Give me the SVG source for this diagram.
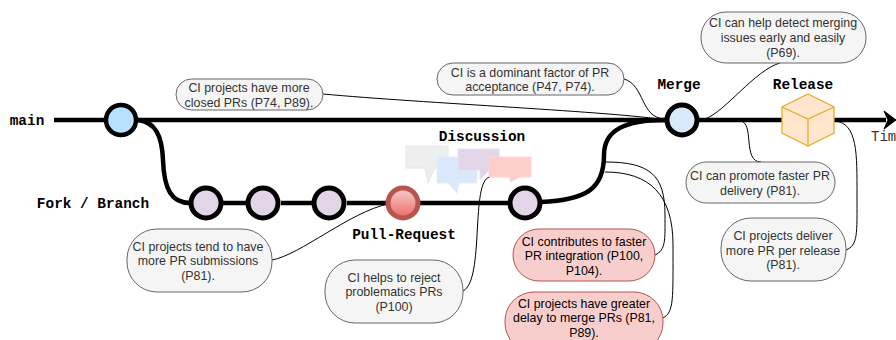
<svg xmlns="http://www.w3.org/2000/svg" width="896" height="340" viewBox="0 0 896 340">
<defs>
<linearGradient id="pr" x1="0" y1="0" x2="0" y2="1"><stop offset="0" stop-color="#f8cecc"/><stop offset="1" stop-color="#ea6b66"/></linearGradient>
</defs>
<style>
.heavy{fill:none;stroke:#000;stroke-width:4.5}
.thin{fill:none;stroke:#000;stroke-width:1}
.c{stroke:#000;stroke-width:5}
.purple{fill:#e1d5e7}
.note{fill:#f5f5f5;stroke:#666;stroke-width:1}
.red{fill:#f8cecc;stroke:#b85450;stroke-width:1}
.nt{font-family:"Liberation Sans",Arial,sans-serif;font-size:12.4px;fill:#333;text-anchor:middle}
.rt{font-family:"Liberation Sans",Arial,sans-serif;font-size:12.4px;fill:#000;text-anchor:middle}
.lb{font-family:"Liberation Mono","Courier New",monospace;font-size:14.4px;font-weight:bold;fill:#000;text-anchor:middle}
</style>
<g id="connectors">
<path class="heavy" d="M54 120H120"/>
<path class="heavy" d="M135 120H665"/>
<path class="heavy" d="M698 120H782"/>
<path class="heavy" d="M834 120H886"/>
<path d="M884 111L896 120L884 129L888 120Z" fill="#000" stroke="#000"/>
<path class="heavy" d="M138 120C155 122 162 135 163 160C164 190 172 203 190 203"/>
<path class="heavy" d="M222 203H247M281 203H313M347 203H388M418 203H508"/>
<path class="heavy" d="M541 202C585 200 604 190 604 155C604 130 625 120 665 120"/>
<path class="thin" d="M323 94C420 103 620 112 665 120"/>
<path class="thin" d="M624 79C645 85 640 118 665 119"/>
<path class="thin" d="M705 119C725 112 755 70 780 63"/>
<path class="thin" d="M740 121C755 122 742 162 761 162"/>
<path class="thin" d="M834 121C858 122 857 155 857 195C857 235 858 245 846 250"/>
<path class="thin" d="M272 260C300 255 350 212 388 204"/>
<path class="thin" d="M463 291C485 280 470 180 490 177"/>
<path class="thin" d="M605 162C650 162 665 175 665 215C665 240 666 250 655 255"/>
<path class="thin" d="M605 172C650 172 673 195 673 245C673 300 674 312 663 318"/>
</g>
<g id="main-start"><circle cx="121" cy="120" r="15" fill="#b8e0ff" stroke="#000" stroke-width="4.5"/></g>
<g id="commit-1"><circle class="c purple" cx="206" cy="203" r="15"/></g>
<g id="commit-2"><circle class="c purple" cx="263" cy="203" r="15"/></g>
<g id="commit-3"><circle class="c purple" cx="329" cy="203" r="15"/></g>
<g id="pull-request"><circle cx="403" cy="203" r="15" fill="url(#pr)" stroke="#b85450" stroke-width="5"/></g>
<g id="commit-4"><circle class="c purple" cx="525" cy="203" r="15"/></g>
<g id="merge"><circle cx="682" cy="120" r="15" fill="#dae8fc" stroke="#000" stroke-width="5"/></g>
<g id="release">
<path d="M808 94L834 107V133L808 146L782 133V107Z" fill="#ffe6cc" stroke="#e6ad2e" stroke-width="1.3"/>
<path d="M782 107L808 119L834 107M808 119V146" fill="none" stroke="#e6ad2e" stroke-width="1.3"/>
</g>
<g id="discussion-bubbles">
<path d="M406 146H448V168H435L428 183L425 168H406Z" fill="#eeeeee" stroke="#e6e6e6"/>
<path d="M437 157H477V183H459L457 193L448 183H437Z" fill="#dae8fc" stroke="#e4eefc"/>
<path d="M458 149H499V170H489L480 180V170H458Z" fill="#e1d5e7" stroke="#e8dfec"/>
<path d="M489 157H531V177H520L510 182V177H489Z" fill="#ffcccc" stroke="#ffd8d8"/>
</g>
<g id="label-main"><text class="lb" x="27" y="125">main</text></g>
<g id="label-fork"><text class="lb" x="93" y="208">Fork / Branch</text></g>
<g id="label-pr"><text class="lb" x="404" y="239">Pull-Request</text></g>
<g id="label-discussion"><text class="lb" x="482" y="141">Discussion</text></g>
<g id="label-merge"><text class="lb" x="679" y="89">Merge</text></g>
<g id="label-release"><text class="lb" x="803" y="89">Release</text></g>
<g id="label-time"><text x="871" y="141" font-family="'Liberation Mono',monospace" font-size="14" fill="#333">Time</text></g>
<g id="note-closed"><rect class="note" x="176" y="79" width="147" height="31" rx="15.5"/><text class="nt" x="249" y="92">CI projects have more</text><text class="nt" x="249" y="107">closed PRs (P74, P89).</text></g>
<g id="note-dominant"><rect class="note" x="437" y="63" width="187" height="32" rx="16"/><text class="nt" x="530" y="77">CI is a dominant factor of PR</text><text class="nt" x="530" y="91">acceptance (P47, P74).</text></g>
<g id="note-detect"><rect class="note" x="701" y="12" width="165" height="51" rx="25"/><text class="nt" x="783" y="27">CI can help detect merging</text><text class="nt" x="783" y="42">issues early and easily</text><text class="nt" x="783" y="57">(P69).</text></g>
<g id="note-promote"><rect class="note" x="686" y="162" width="149" height="41" rx="20.5"/><text class="nt" x="760" y="180">CI can promote faster PR</text><text class="nt" x="760" y="195">delivery (P81).</text></g>
<g id="note-deliver"><rect class="note" x="721" y="218" width="125" height="63" rx="30"/><text class="nt" x="783" y="240">CI projects deliver</text><text class="nt" x="783" y="255">more PR per release</text><text class="nt" x="783" y="269">(P81).</text></g>
<g id="note-submissions"><rect class="note" x="127" y="229" width="145" height="63" rx="30"/><text class="nt" x="198" y="251">CI projects tend to have</text><text class="nt" x="198" y="265">more PR submissions</text><text class="nt" x="198" y="280">(P81).</text></g>
<g id="note-reject"><rect class="note" x="325" y="260" width="138" height="63" rx="30"/><text class="nt" x="394" y="282">CI helps to reject</text><text class="nt" x="394" y="296">problematics PRs</text><text class="nt" x="394" y="311">(P100)</text></g>
<g id="note-faster"><rect class="red" x="513" y="229" width="142" height="52" rx="26"/><text class="rt" x="584" y="246">CI contributes to faster</text><text class="rt" x="584" y="260">PR integration (P100,</text><text class="rt" x="584" y="275">P104).</text></g>
<g id="note-delay"><rect class="red" x="505" y="292" width="158" height="60" rx="29"/><text class="rt" x="584" y="308">CI projects have greater</text><text class="rt" x="584" y="322">delay to merge PRs (P81,</text><text class="rt" x="584" y="337">P89).</text></g>
</svg>
